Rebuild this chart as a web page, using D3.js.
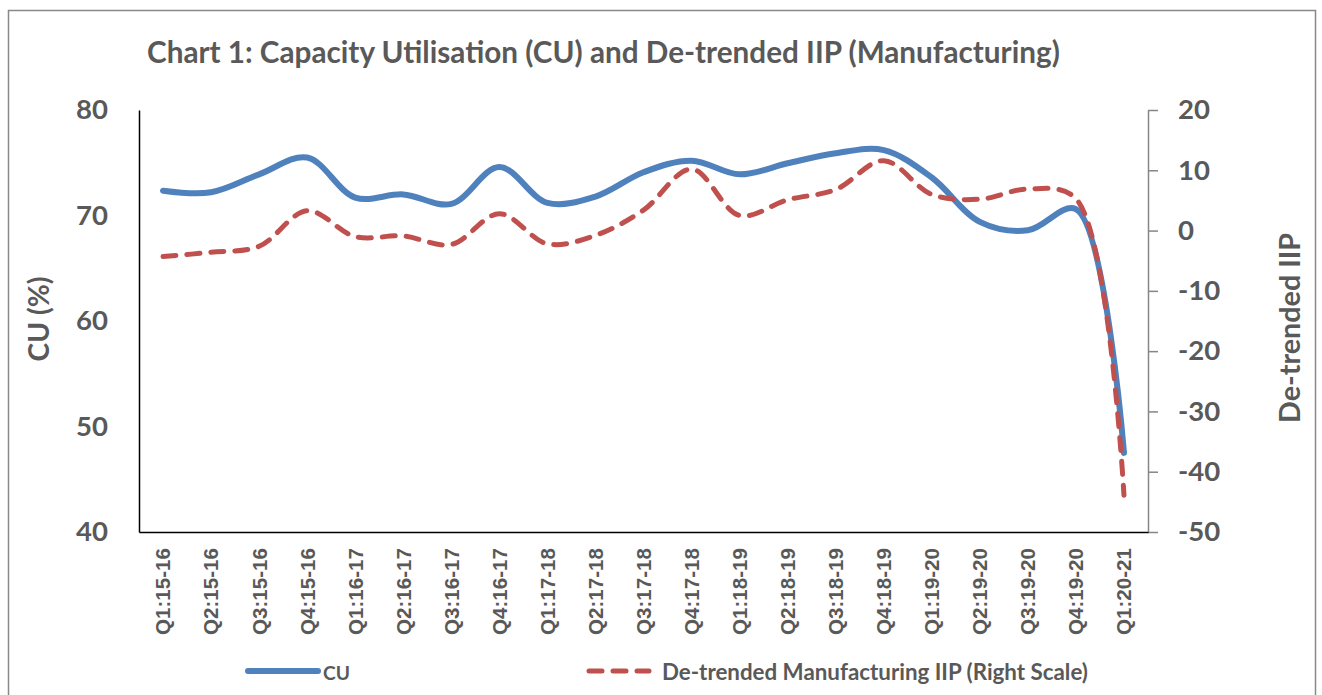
<!DOCTYPE html>
<html><head><meta charset="utf-8">
<script src="https://cdn.jsdelivr.net/npm/d3@7"></script>
<style>body{margin:0;background:#fff}</style>
</head><body>
<svg id="chart" width="1322" height="695"></svg>
<script>
const categories = ["Q1:15-16","Q2:15-16","Q3:15-16","Q4:15-16","Q1:16-17","Q2:16-17","Q3:16-17","Q4:16-17",
  "Q1:17-18","Q2:17-18","Q3:17-18","Q4:17-18","Q1:18-19","Q2:18-19","Q3:18-19","Q4:18-19",
  "Q1:19-20","Q2:19-20","Q3:19-20","Q4:19-20","Q1:20-21"];
const cuValues = [72.35, 72.2, 73.9, 75.5, 71.7, 72.0, 71.1, 74.6, 71.2, 71.8, 74.1, 75.2, 73.9, 74.95, 75.9, 76.2, 73.6, 69.4, 68.6, 70.6, 47.5];
const iipValues = [-4.3, -3.6, -2.6, 3.3, -1.0, -0.9, -2.3, 2.8, -2.2, -0.8, 3.4, 10.2, 2.5, 5.1, 6.8, 11.6, 6.0, 5.2, 6.9, 5.3, -43.9];
const leftTicks = [40, 50, 60, 70, 80];
const rightTicks = [-50, -40, -30, -20, -10, 0, 10, 20];
const titleText = "Chart 1: Capacity Utilisation (CU) and De-trended IIP (Manufacturing)";
const leftTitle = "CU (%)";
const rightTitle = "De-trended IIP";
const legendCU = "CU";
const legendIIP = "De-trended Manufacturing IIP (Right Scale)";

const svg = d3.select("#chart");
const textColor = "#595959";
const calibriLike = "Lato, 'Open Sans', sans-serif";
const arialLike = "'Liberation Sans', Arial, sans-serif";

function fit(sel, target) {
  const w = sel.node().getComputedTextLength();
  const fs = parseFloat(sel.attr("font-size"));
  const nf = fs * target / w;
  sel.attr("font-size", nf);
  return nf;
}

// outer border
svg.append("rect").attr("x", 8.5).attr("y", 10.5).attr("width", 1307).attr("height", 700)
  .attr("fill", "none").attr("stroke", "#898989").attr("stroke-width", 1.5);

const x = d3.scaleBand().domain(categories).range([139, 1148]);
const cx = c => x(c) + x.bandwidth() / 2;
const yL = d3.scaleLinear().domain([40, 80]).range([532, 110]);
const yR = d3.scaleLinear().domain([-50, 20]).range([532, 110]);
const plainFmt = d => String(d);

// title
const t = svg.append("text").attr("x", 147).attr("y", 63).text(titleText)
  .attr("font-family", calibriLike).attr("font-weight", "bold").attr("font-size", 26).attr("fill", textColor);
fit(t, 913);

// left axis
const gL = svg.append("g").attr("transform", "translate(139,0)")
  .call(d3.axisLeft(yL).tickValues(leftTicks).tickFormat(plainFmt).tickSize(0).tickPadding(31));
gL.select(".domain").attr("stroke", "#000").attr("stroke-width", 1.5);
gL.selectAll("text").attr("font-family", calibriLike).attr("font-weight", "bold")
  .attr("font-size", 30).attr("fill", textColor);
const probe = gL.selectAll("text").filter(d => d === 80);
const tickFs = fit(probe, 32);
gL.selectAll("text").attr("font-size", tickFs);

// right axis
const gR = svg.append("g").attr("transform", "translate(1148,0)")
  .call(d3.axisRight(yR).tickValues(rightTicks).tickFormat(plainFmt).tickSizeInner(10).tickSizeOuter(0).tickPadding(20));
gR.select(".domain").attr("stroke", "#868686").attr("stroke-width", 1.5);
gR.selectAll(".tick line").attr("stroke", "#868686").attr("stroke-width", 1.5);
gR.selectAll("text").attr("font-family", calibriLike).attr("font-weight", "bold")
  .attr("font-size", tickFs).attr("fill", textColor);

// bottom axis
const gB = svg.append("g").attr("transform", "translate(0,532)")
  .call(d3.axisBottom(x).tickSize(0).tickSizeOuter(0));
gB.select(".domain").attr("stroke", "#000").attr("stroke-width", 1.5);
gB.selectAll("text").attr("transform", "rotate(-90)").attr("x", -16).attr("y", 0).attr("dy", "0.36em")
  .attr("text-anchor", "end").attr("font-family", arialLike).attr("font-weight", "bold")
  .attr("font-size", 20).attr("fill", textColor);
const xp = gB.selectAll("text").filter(d => d === categories[0]);
const xFs = fit(xp, 87);
gB.selectAll("text").attr("font-size", xFs);

// axis titles
const lt = svg.append("text").attr("transform", "translate(38,319) rotate(-90)")
  .attr("text-anchor", "middle").attr("dominant-baseline", "central").text(leftTitle)
  .attr("font-family", calibriLike).attr("font-weight", "bold").attr("font-size", 28).attr("fill", textColor);
fit(lt, 85);
const rt = svg.append("text").attr("transform", "translate(1289,328) rotate(-90)")
  .attr("text-anchor", "middle").attr("dominant-baseline", "central").text(rightTitle)
  .attr("font-family", calibriLike).attr("font-weight", "bold").attr("font-size", 28).attr("fill", textColor);
fit(rt, 190);

// lines
const lineCU = d3.line().x((d, i) => cx(categories[i])).y(d => yL(d)).curve(d3.curveCatmullRom.alpha(0.5));
const lineIIP = d3.line().x((d, i) => cx(categories[i])).y(d => yR(d)).curve(d3.curveCatmullRom.alpha(0.5));
svg.append("path").attr("d", lineCU(cuValues)).attr("fill", "none").attr("stroke", "#4F81BD")
  .attr("stroke-width", 6).attr("stroke-linecap", "round").attr("stroke-linejoin", "round");
svg.append("path").attr("d", lineIIP(iipValues)).attr("fill", "none").attr("stroke", "#C0504D")
  .attr("stroke-width", 5).attr("stroke-dasharray", "13,11").attr("stroke-linecap", "round");

// legend
svg.append("line").attr("x1", 248).attr("x2", 318).attr("y1", 671).attr("y2", 671)
  .attr("stroke", "#4F81BD").attr("stroke-width", 6).attr("stroke-linecap", "round");
const l1 = svg.append("text").attr("x", 323).attr("y", 680).text(legendCU)
  .attr("font-family", calibriLike).attr("font-weight", "bold").attr("font-size", 23).attr("fill", textColor);
fit(l1, 27);
svg.append("line").attr("x1", 589).attr("x2", 649).attr("y1", 671).attr("y2", 671)
  .attr("stroke", "#C0504D").attr("stroke-width", 5).attr("stroke-dasharray", "13,11").attr("stroke-linecap", "round");
const l2 = svg.append("text").attr("x", 662).attr("y", 680).text(legendIIP)
  .attr("font-family", calibriLike).attr("font-weight", "bold").attr("font-size", 23).attr("fill", textColor);
fit(l2, 426);
</script>
</body></html>
